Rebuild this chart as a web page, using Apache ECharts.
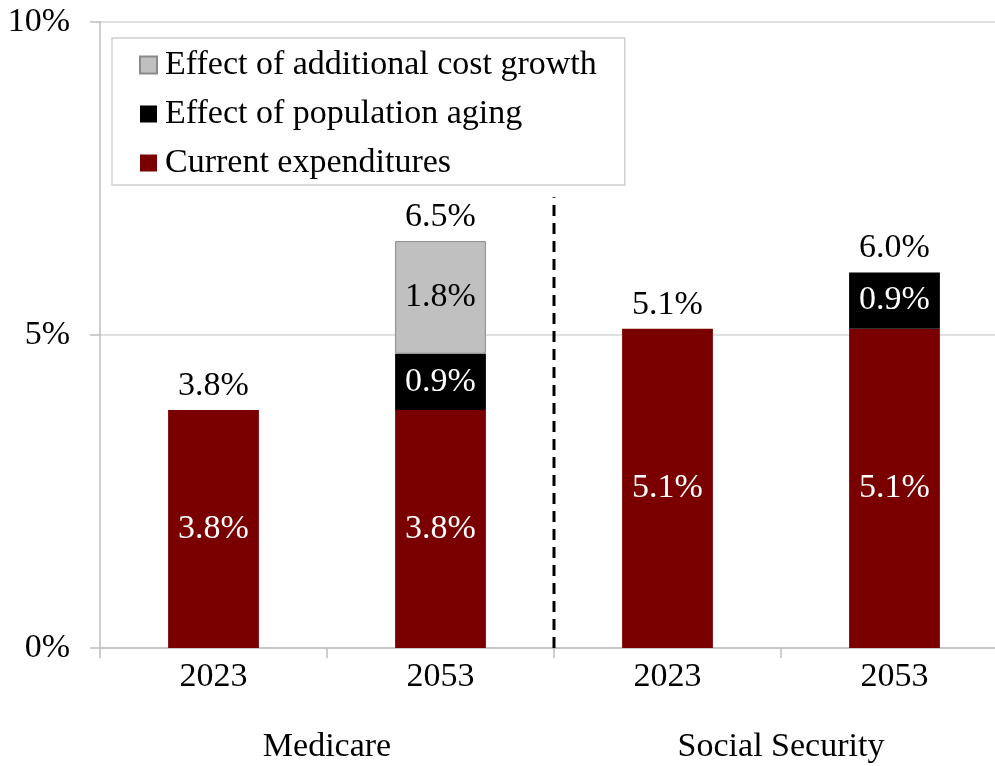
<!DOCTYPE html>
<html>
<head>
<meta charset="utf-8">
<script src="https://cdn.jsdelivr.net/npm/echarts@6/dist/echarts.min.js"></script>
<style>html,body{margin:0;padding:0;background:#fff}#c{width:995px;height:766px}</style>
</head>
<body>
<div id="c"></div>
<script>
const categories = ['2023', '2053', '2023', '2053'];
const groups = ['Medicare', 'Social Security'];
const currentExp = [3.8, 3.8, 5.1, 5.1];
const agingEffect = [null, 0.9, null, 0.9];
const costGrowthEffect = [null, 1.8, null, null];
const totals = [3.8, 6.5, 5.1, 6.0];
const yTicks = [0, 5, 10];
const dividerX = 2;      // boundary between Medicare and Social Security groups (category units)
const dividerTop = 7.2;  // top of dashed divider (%)

const FONT = "'Liberation Serif', 'Times New Roman', serif";
const FS = 34;
const chart = echarts.init(document.getElementById('c'), null, {renderer: 'canvas'});

const pct = v => v.value == null ? '' : v.value.toFixed(1) + '%';

chart.setOption({
  animation: false,
  backgroundColor: '#fff',
  textStyle: {fontFamily: FONT},
  grid: {left: 100, top: 22, width: 908, height: 626, containLabel: false, outerBoundsMode: 'none'},
  legend: {
    orient: 'vertical',
    left: 112, top: 38,
    padding: [10, 28, 5, 27],
    backgroundColor: '#fff',
    borderColor: '#cfcfcf',
    borderWidth: 1.5,
    itemGap: 15,
    itemWidth: 17, itemHeight: 17,
    icon: 'rect',
    textStyle: {fontFamily: FONT, fontSize: FS, color: '#000', padding: [0, 0, 0, 3]},
    data: ['Effect of additional cost growth', 'Effect of population aging', 'Current expenditures']
  },
  xAxis: [
    {
      type: 'category', data: categories,
      axisLine: {lineStyle: {color: '#bdbdbd', width: 1.5}},
      axisTick: {show: true, length: 10, lineStyle: {color: '#bdbdbd', width: 1.5}},
      axisLabel: {fontFamily: FONT, fontSize: FS, color: '#000', margin: 12},
      splitLine: {show: false}
    },
    {
      type: 'category', data: groups, position: 'bottom', offset: 74,
      axisLine: {show: false}, axisTick: {show: false},
      axisLabel: {fontFamily: FONT, fontSize: FS, color: '#000', margin: 8},
      splitLine: {show: false}
    },
    {
      type: 'value', min: 0, max: 4, show: false, splitLine: {show: false}
    }
  ],
  yAxis: {
    type: 'value', min: yTicks[0], max: yTicks[yTicks.length - 1], interval: 5,
    axisLine: {show: true, lineStyle: {color: '#bdbdbd', width: 1.5}},
    axisTick: {show: true, length: 10, lineStyle: {color: '#bdbdbd', width: 1.5}},
    axisLabel: {fontFamily: FONT, fontSize: FS, color: '#000', margin: 30, formatter: '{value}%'},
    splitLine: {show: true, lineStyle: {color: '#d4d4d4', width: 1.5}}
  },
  series: [
    {
      name: 'Current expenditures', type: 'bar', stack: 'a', barWidth: '40%',
      data: currentExp,
      itemStyle: {color: '#7a0000'},
      label: {show: true, position: 'inside', color: '#fff', fontFamily: FONT, fontSize: FS, formatter: pct}
    },
    {
      name: 'Effect of population aging', type: 'bar', stack: 'a', barWidth: '40%',
      data: agingEffect,
      itemStyle: {color: '#000'},
      label: {show: true, position: 'inside', color: '#fff', fontFamily: FONT, fontSize: FS, formatter: pct}
    },
    {
      name: 'Effect of additional cost growth', type: 'bar', stack: 'a', barWidth: '40%',
      data: costGrowthEffect,
      itemStyle: {color: '#c0c0c0', borderColor: '#8a8a8a', borderWidth: 1},
      label: {show: true, position: 'inside', color: '#000', fontFamily: FONT, fontSize: FS, formatter: pct}
    },
    {
      name: 'Total', type: 'scatter', data: totals, symbolSize: 0, silent: true,
      itemStyle: {opacity: 1},
      label: {show: true, position: 'top', distance: 7, color: '#000', fontFamily: FONT, fontSize: FS, formatter: pct}
    },
    {
      name: 'divider', type: 'line', xAxisIndex: 2, silent: true, symbol: 'none',
      data: [[dividerX, 0], [dividerX, dividerTop]],
      lineStyle: {color: '#000', width: 3, type: [11, 7]},
      z: 5
    }
  ]
});
</script>
</body>
</html>
